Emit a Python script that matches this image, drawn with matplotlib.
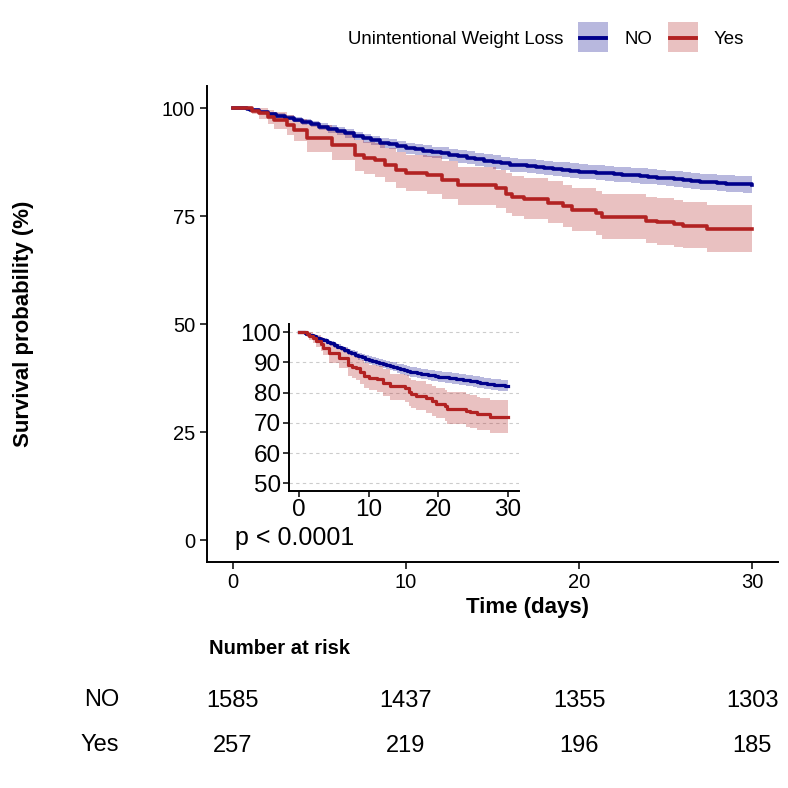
import matplotlib
matplotlib.use("Agg")
import matplotlib.pyplot as plt
from matplotlib.patches import Rectangle
from matplotlib.lines import Line2D

plt.rcParams['font.family'] = ['Liberation Sans', 'DejaVu Sans']

# ---- data ----
no_time = [0, 0.8, 1.0, 1.5, 2.0, 2.5, 3.0, 3.5, 4.0, 4.5, 5.0, 5.5, 6.0, 6.5, 7.0, 7.5,
           8.0, 8.5, 9.0, 9.5, 10.0, 10.5, 11.0, 11.5, 12.0, 12.5, 13.0, 13.5, 14.0, 14.5,
           15.0, 15.5, 16.0, 16.5, 17.0, 17.5, 18.0, 18.5, 19.0, 19.5, 20.0, 20.5, 21.0,
           21.5, 22.0, 22.5, 23.0, 23.5, 24.0, 24.5, 25.0, 25.5, 26.0, 26.5, 27.0, 27.5,
           28.0, 28.5, 29.0, 29.5, 30.0]
no_surv = [100, 99.8, 99.5, 99.0, 98.6, 98.2, 97.8, 97.3, 96.8, 96.3, 95.7, 95.1, 94.6,
           94.1, 93.5, 93.0, 92.5, 92.0, 91.6, 91.1, 90.7, 90.4, 90.0, 89.7, 89.5, 89.2,
           88.8, 88.5, 88.1, 87.8, 87.5, 87.2, 86.9, 86.7, 86.5, 86.3, 86.1, 85.9, 85.7,
           85.5, 85.3, 85.2, 85.0, 84.9, 84.7, 84.6, 84.4, 84.3, 84.1, 83.9, 83.7, 83.5,
           83.3, 83.1, 82.9, 82.8, 82.6, 82.5, 82.4, 82.3, 82.2]
no_ci_half = [0, 0.2, 0.3, 0.4, 0.5, 0.55, 0.6, 0.65, 0.7, 0.75, 0.8, 0.85, 0.9, 0.95, 1.0,
              1.05, 1.1, 1.15, 1.2, 1.25, 1.3, 1.3, 1.35, 1.35, 1.4, 1.4, 1.45, 1.45, 1.5,
              1.5, 1.55, 1.55, 1.6, 1.6, 1.6, 1.65, 1.65, 1.65, 1.7, 1.7, 1.7, 1.7, 1.75,
              1.75, 1.75, 1.75, 1.8, 1.8, 1.8, 1.8, 1.8, 1.85, 1.85, 1.85, 1.85, 1.85, 1.9,
              1.9, 1.9, 1.9, 1.9]

yes_time = [0, 1.1, 1.5, 2.0, 2.4, 3.1, 3.5, 4.3, 5.7, 7.05, 7.6, 8.2, 8.8, 9.4, 10.0,
            11.2, 12.1, 13.0, 15.2, 15.8, 16.1, 16.8, 18.2, 19.1, 19.6, 21.0, 21.3, 23.9,
            24.5, 25.5, 26.0, 27.4, 30.0]
yes_surv = [100, 99.4, 98.8, 98.0, 97.2, 96.1, 94.9, 93.0, 91.4, 89.1, 88.5, 88.0, 86.8,
            85.6, 84.9, 84.5, 83.3, 82.1, 81.4, 80.2, 79.5, 78.9, 78.1, 77.2, 76.4, 75.6,
            74.7, 73.9, 73.5, 73.1, 72.8, 71.9, 71.9]
yes_lower = [100, 98.5, 97.5, 96.3, 95.2, 93.8, 92.3, 89.9, 88.0, 85.4, 84.7, 84.1, 82.8,
             81.5, 80.7, 80.2, 78.9, 77.6, 76.9, 75.6, 74.9, 74.3, 73.4, 72.4, 71.5, 70.6,
             69.6, 68.7, 68.2, 67.8, 67.5, 66.7, 66.7]
yes_upper = [100, 100, 99.9, 99.5, 99.0, 98.3, 97.4, 96.0, 94.7, 92.7, 92.2, 91.8, 90.8,
             89.8, 89.2, 88.8, 87.8, 86.3, 85.7, 84.9, 84.3, 83.7, 83.0, 82.2, 81.5, 80.8,
             80.2, 79.4, 79.1, 78.6, 78.3, 77.5, 77.5]

risk_times = [0, 10, 20, 30]
risk_no = [1585, 1437, 1355, 1303]
risk_yes = [257, 219, 196, 185]
group_labels = ["NO", "Yes"]

no_lower = [s - h for s, h in zip(no_surv, no_ci_half)]
no_upper = [min(100, s + h) for s, h in zip(no_surv, no_ci_half)]

BLUE = "#00008B"
RED = "#B22222"
W = H = 788

def fx(px):
    return px / W

def fy(py):
    return 1 - py / H

fig = plt.figure(figsize=(7.88, 7.88), dpi=100)

def draw(ax, lw):
    ax.fill_between(no_time, no_lower, no_upper, step='post', color=BLUE, alpha=0.28, lw=0)
    ax.fill_between(yes_time, yes_lower, yes_upper, step='post', color=RED, alpha=0.28, lw=0)
    ax.step(no_time, no_surv, where='post', color=BLUE, lw=lw)
    ax.step(yes_time, yes_surv, where='post', color=RED, lw=lw)

# main axes
ax = fig.add_axes([fx(207), fy(561.6), fx(778) - fx(207), (561.6 - 86.4) / H])
draw(ax, 2.6)
ax.set_xlim(-1.5, 31.5)
ax.set_ylim(-5, 105)
ax.set_xticks([0, 10, 20, 30])
ax.set_yticks([0, 25, 50, 75, 100])
for s in ['top', 'right']:
    ax.spines[s].set_visible(False)
for s in ['left', 'bottom']:
    ax.spines[s].set_linewidth(1.4)
ax.tick_params(labelsize=14.5, width=1.1, length=5, colors='black')
ax.text(0.1, 0.5, "p < 0.0001", fontsize=18, va='center', ha='left')

# inset axes
ins = fig.add_axes([fx(288.5), fy(491), fx(518.5) - fx(288.5), (491 - 324.5) / H])
draw(ins, 2.3)
ins.set_xlim(-1.5, 31.5)
ins.set_ylim(47.5, 102.5)
ins.set_xticks([0, 10, 20, 30])
ins.set_yticks([50, 60, 70, 80, 90, 100])
ins.yaxis.grid(True, ls=(0, (3, 3)), color='#cccccc', lw=0.8)
ins.set_axisbelow(True)
for s in ['top', 'right']:
    ins.spines[s].set_visible(False)
for s in ['left', 'bottom']:
    ins.spines[s].set_linewidth(1.4)
ins.tick_params(labelsize=17.5, width=1.1, length=4, pad=1.5)

# axis labels
fig.text(fx(528), fy(607), "Time (days)", fontsize=16, fontweight='bold', ha='center', va='center')
fig.text(fx(24), fy(324), "Survival probability (%)", fontsize=16, fontweight='bold',
         ha='center', va='center', rotation=90)

# legend
fig.text(fx(348), fy(40), "Unintentional Weight Loss", fontsize=13.4, ha='left', va='center')
for (x0, lab, col) in [(578, group_labels[0], BLUE), (668, group_labels[1], RED)]:
    fig.add_artist(Rectangle((fx(x0), fy(52)), 30 / W, 30 / H, transform=fig.transFigure,
                             facecolor=col, alpha=0.28, lw=0))
    fig.add_artist(Line2D([fx(x0 + 2), fx(x0 + 28)], [fy(38), fy(38)], transform=fig.transFigure,
                          color=col, lw=2.8))
    fig.text(fx(x0 + 46), fy(39), lab, fontsize=13.4, ha='left', va='center')

# risk table
fig.text(fx(209), fy(648), "Number at risk", fontsize=14.5, fontweight='bold', ha='left', va='center')
rax = fig.add_axes([fx(207), fy(770), fx(778) - fx(207), (770 - 675) / H])
rax.set_xlim(-1.5, 31.5)
rax.set_ylim(0, 2)
rax.axis('off')
for t, n in zip(risk_times, risk_no):
    rax.text(t, 1.45, str(n), fontsize=17, ha='center', va='center')
for t, n in zip(risk_times, risk_yes):
    rax.text(t, 0.5, str(n), fontsize=17, ha='center', va='center')
fig.text(fx(119), fy(700), group_labels[0], fontsize=17, ha='right', va='center')
fig.text(fx(119), fy(745), group_labels[1], fontsize=17, ha='right', va='center')

fig.savefig("out.png", dpi=100)
